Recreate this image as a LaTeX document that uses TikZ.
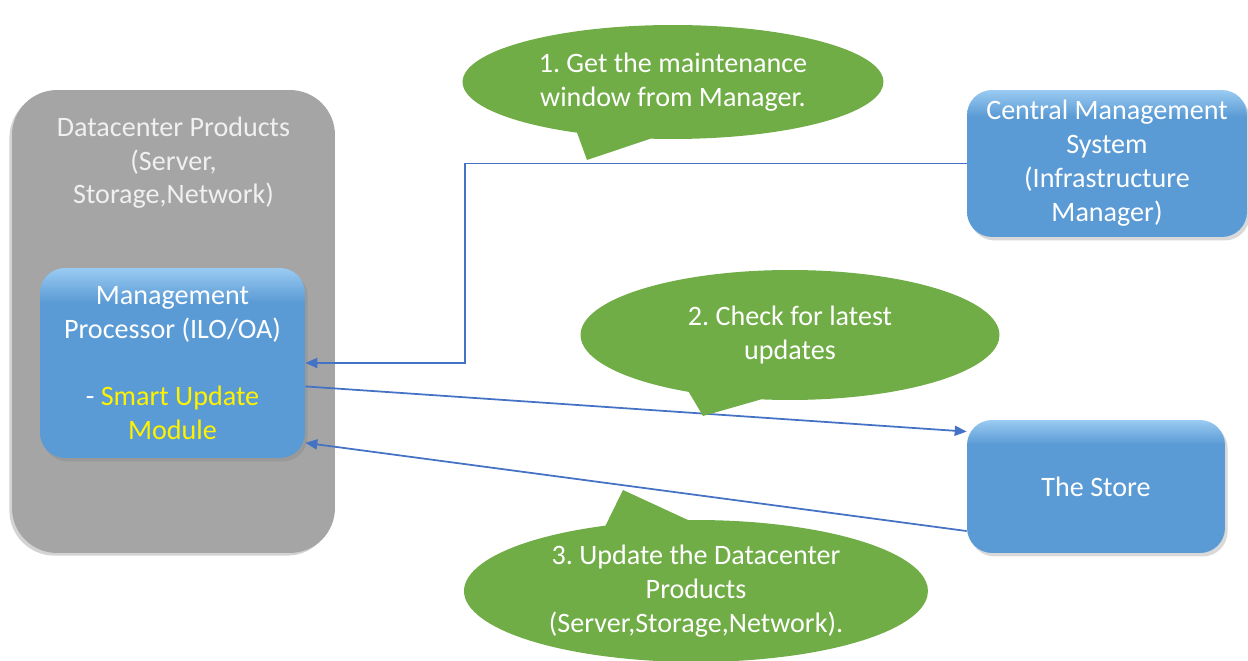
\documentclass[tikz,border=0pt]{standalone}
\usepackage{fontspec}
\setmainfont{Carlito}
\frenchspacing
\usetikzlibrary{shapes.callouts,shadows,arrows.meta}
\definecolor{boxblue}{HTML}{5B9BD5}
\definecolor{boxtop}{HTML}{9ACBF2}
\definecolor{dcgray}{HTML}{A5A5A5}
\definecolor{bubblegreen}{HTML}{70AD47}
\definecolor{linkblue}{HTML}{4472C4}
\def\px{0.02cm}
\def\arcwidth{21}
% only 25bp..75bp of a shading lands inside the path
\pgfdeclareverticalshading{boxshade}{100bp}{color(0bp)=(boxblue); color(66bp)=(boxblue); color(75bp)=(boxtop); color(100bp)=(boxtop)}

\begin{document}
\begin{tikzpicture}[x=\px, y=-\px,
    every node/.style={font=\fontsize{16}{19.3}\selectfont, text=white, align=center},
    dc box/.style={fill=dcgray, rounded corners=0.9cm,
                   drop shadow={shadow xshift=-1.5pt, shadow yshift=-1.5pt, opacity=.35}},
    blue box/.style={shading=boxshade, rounded corners=0.5cm,
                     drop shadow={shadow xshift=1.5pt, shadow yshift=-2pt, opacity=.3}},
    bubble/.style={ellipse callout, fill=bubblegreen, inner sep=0pt, callout pointer arc=\arcwidth},
    link/.style={draw=linkblue, line width=1pt, -{Triangle[length=2.4mm,width=2mm]}}]
    \useasboundingbox (0,0) rectangle (1248,661);

    \node[dc box, minimum width=6.46cm, minimum height=9.26cm] (dc) at (173.5,321.5) {};
    \node[text=white!94!black] (dctext) at ([yshift=-1.46cm]dc.north) {Datacenter Products\\(Server,\\Storage,Network)};
    \node[blue box, minimum width=5.3cm, minimum height=3.8cm] (mp) at (172.5,363)
        {Management\\Processor (ILO/OA)\\ \mbox{}\\- \textcolor{yellow}{Smart Update}\\\textcolor{yellow}{Module}};
    \node[blue box, minimum width=5.6cm, minimum height=2.94cm] (cms) at (1107,163.5)
        {Central Management\\System\\(Infrastructure\\Manager)};
    \node[blue box, minimum width=5.16cm, minimum height=2.66cm] (store) at (1096,486.5) {The Store};

    \coordinate (bend) at (465,363);
    \draw[link] (cms.west) -| (bend) -- (mp.east);
    \draw[link] (mp.-10) -- (store.157);
    \draw[link] (store.199) -- (mp.-31);

    \node[bubble, minimum width=8.42cm, minimum height=2.28cm, callout absolute pointer={(587,160)}]
        (note1) at (673,82) {1. Get the maintenance\\window from Manager.};
    \node[bubble, minimum width=8.38cm, minimum height=2.6cm, callout absolute pointer={(703,416)}]
        (note2) at (790,335) {2. Check for latest\\updates};
    \node[bubble, minimum width=9.28cm, minimum height=2.84cm, callout absolute pointer={(623,490)}]
        (note3) at (696,591) {3. Update the Datacenter\\Products\\(Server,Storage,Network).};
\end{tikzpicture}
\end{document}
